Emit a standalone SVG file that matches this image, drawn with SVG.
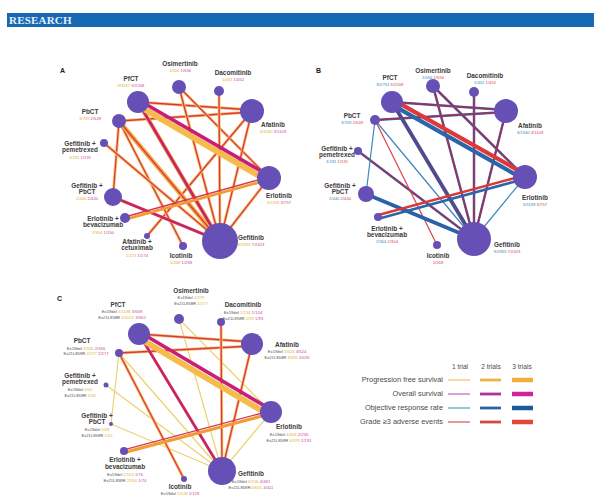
<svg xmlns="http://www.w3.org/2000/svg" width="594" height="498" viewBox="0 0 594 498">
<style>
.n{fill:#6650b6}
text{font-family:"Liberation Sans",Arial,sans-serif}
.lb{font-size:6.4px;font-weight:bold;fill:#3a3a3a;text-anchor:middle}
.sb{font-size:4.2px;text-anchor:middle}
.rw{font-size:4.2px;text-anchor:middle}
.pl{font-size:7px;font-weight:bold;fill:#222}
.lg{font-size:7.4px;fill:#4a4a4a}
.lh{font-size:6.6px;fill:#4a4a4a;text-anchor:middle}
.yt{fill:#e0b030}.pt{fill:#d0489c}.bt{fill:#3a8ab8}.rt{fill:#d84848}.dt{fill:#555}
line{stroke-linecap:butt;fill:none}
.y1{stroke:#f7c564;stroke-width:3}
.y2{stroke:#f4ae3c;stroke-width:4.4}
.r1{stroke:#d9364e;stroke-width:1.3}
.m2{stroke:#c8226f;stroke-width:2.6}
.yl{stroke:#ecd270;stroke-width:1.2}
.bl1{stroke:#3f86bb;stroke-width:1.2}
.bu{stroke:#4a62a8;stroke-width:2.5}
.ro{stroke:#9c3056;stroke-width:1.5}
.rd1{stroke:#d8404a;stroke-width:1.2}
</style>

<!-- header -->
<g id="header">
<rect x="7" y="13" width="587" height="14" fill="#1769b3"/>
<text x="9" y="24" style="font-family:'Liberation Serif',serif;font-size:11px;font-weight:bold;fill:#e6eef8;letter-spacing:0.2px">RESEARCH</text>
</g>

<!-- ===== Panel A ===== -->
<text class="pl" x="60" y="73">A</text>
<g id="edges-A">
<line class="y1" x1="138" y1="102" x2="252" y2="110"/><line class="r1" x1="138" y1="102" x2="252" y2="110"/>
<line class="y1" x1="119" y1="121" x2="252" y2="112"/><line class="r1" x1="119" y1="121" x2="252" y2="112"/>
<line class="y1" x1="179" y1="87" x2="220" y2="241"/><line class="r1" x1="179" y1="87" x2="220" y2="241"/>
<line class="y1" x1="179" y1="87" x2="269" y2="178"/><line class="r1" x1="179" y1="87" x2="269" y2="178"/>
<line class="y1" x1="219" y1="91" x2="220" y2="241"/><line class="r1" x1="219" y1="91" x2="220" y2="241"/>
<line class="y1" x1="252" y1="111" x2="220" y2="241"/><line class="r1" x1="252" y1="111" x2="220" y2="241"/>
<line class="y1" x1="252" y1="111" x2="147" y2="236"/><line class="r1" x1="252" y1="111" x2="147" y2="236"/>
<line class="y1" x1="269" y1="178" x2="220" y2="241"/><line class="r1" x1="269" y1="178" x2="220" y2="241"/>
<line class="y1" x1="119" y1="121" x2="113" y2="197"/><line class="r1" x1="119" y1="121" x2="113" y2="197"/>
<line class="y1" x1="119" y1="121" x2="183" y2="246"/><line class="r1" x1="119" y1="121" x2="183" y2="246"/>
<line class="y1" x1="104" y1="143" x2="220" y2="241"/><line class="r1" x1="104" y1="143" x2="220" y2="241"/>
<line class="y2" x1="119" y1="121" x2="220" y2="241"/><line class="r1" x1="119" y1="121" x2="220" y2="241"/>
<line class="y1" x1="113" y1="197" x2="220" y2="241"/><line class="m2" x1="113" y1="197" x2="220" y2="241"/>
<line class="y2" x1="138" y1="102" x2="220" y2="241"/><line class="m2" x1="138" y1="102" x2="220" y2="241"/>
<line x1="125.4" y1="219.4" x2="269.4" y2="179.4" style="stroke:#f29a34;stroke-width:2.8"/>
<line x1="124.7" y1="217" x2="268.7" y2="177" class="r1"/>
<line x1="136.5" y1="104.6" x2="267.5" y2="180.6" style="stroke:#f6bb4a;stroke-width:6"/>
<line x1="139" y1="100.3" x2="270" y2="176.3" style="stroke:#c81e78;stroke-width:3.6"/>
</g>
<g id="A-PfCT"><circle class="n" cx="138" cy="102" r="11"/><text class="lb" x="131" y="81">PfCT</text><text class="sb" x="131" y="87"><tspan class="yt">9/3017</tspan> <tspan class="pt">6/2208</tspan></text></g>
<g id="A-Osimertinib"><circle class="n" cx="179" cy="87" r="7"/><text class="lb" x="180" y="66">Osimertinib</text><text class="sb" x="180" y="72"><tspan class="yt">1/556</tspan> <tspan class="pt">1/556</tspan></text></g>
<g id="A-Dacomitinib"><circle class="n" cx="219" cy="91" r="5"/><text class="lb" x="233" y="75">Dacomitinib</text><text class="sb" x="233" y="81"><tspan class="yt">1/452</tspan> <tspan class="pt">1/452</tspan></text></g>
<g id="A-Afatinib"><circle class="n" cx="252" cy="111" r="12"/><text class="lb" x="273" y="127">Afatinib</text><text class="sb" x="273" y="133"><tspan class="yt">4/1340</tspan> <tspan class="pt">3/1109</tspan></text></g>
<g id="A-PbCT"><circle class="n" cx="119" cy="121" r="7"/><text class="lb" x="90" y="114">PbCT</text><text class="sb" x="90" y="120"><tspan class="yt">3/709</tspan> <tspan class="pt">2/549</tspan></text></g>
<g id="A-GefPem"><circle class="n" cx="104" cy="143" r="4"/><text class="lb" x="80" y="146">Gefitinib +</text><text class="lb" x="80" y="152">pemetrexed</text><text class="sb" x="80" y="159"><tspan class="yt">1/191</tspan> <tspan class="pt">1/191</tspan></text></g>
<g id="A-GefPbCT"><circle class="n" cx="113" cy="197" r="9"/><text class="lb" x="87" y="188">Gefitinib +</text><text class="lb" x="87" y="194">PbCT</text><text class="sb" x="87" y="200"><tspan class="yt">2/440</tspan> <tspan class="pt">2/440</tspan></text></g>
<g id="A-Erlotinib"><circle class="n" cx="269" cy="178" r="12"/><text class="lb" x="279" y="198">Erlotinib</text><text class="sb" x="279" y="204"><tspan class="yt">5/1159</tspan> <tspan class="pt">3/757</tspan></text></g>
<g id="A-ErlBev"><circle class="n" cx="125" cy="218" r="5"/><text class="lb" x="103" y="221">Erlotinib +</text><text class="lb" x="103" y="227">bevacizumab</text><text class="sb" x="103" y="234"><tspan class="yt">2/304</tspan> <tspan class="pt">1/150</tspan></text></g>
<g id="A-AfaCet"><circle class="n" cx="147" cy="236" r="3"/><text class="lb" x="137" y="244">Afatinib +</text><text class="lb" x="137" y="250">cetuximab</text><text class="sb" x="137" y="257"><tspan class="yt">1/174</tspan> <tspan class="pt">1/174</tspan></text></g>
<g id="A-Icotinib"><circle class="n" cx="183" cy="246" r="4"/><text class="lb" x="181" y="258">Icotinib</text><text class="sb" x="181" y="264"><tspan class="yt">1/268</tspan> <tspan class="pt">1/268</tspan></text></g>
<g id="A-Gefitinib"><circle class="n" cx="220" cy="241" r="18"/><text class="lb" x="251" y="240">Gefitinib</text><text class="sb" x="251" y="246"><tspan class="yt">9/2953</tspan> <tspan class="pt">7/2423</tspan></text></g>

<!-- ===== Panel B ===== -->
<text class="pl" x="316" y="73">B</text>
<g id="edges-B">
<line class="bu" x1="392" y1="102" x2="506" y2="110"/><line class="ro" x1="392" y1="102" x2="506" y2="110"/>
<line class="bu" x1="375" y1="120" x2="506" y2="112"/><line class="ro" x1="375" y1="120" x2="506" y2="112"/>
<line class="bu" x1="433" y1="86" x2="474" y2="239"/><line class="ro" x1="433" y1="86" x2="474" y2="239"/>
<line class="bu" x1="433" y1="86" x2="525" y2="177"/><line class="ro" x1="433" y1="86" x2="525" y2="177"/>
<line class="bu" x1="474" y1="92" x2="474" y2="239"/><line class="ro" x1="474" y1="92" x2="474" y2="239"/>
<line class="bu" x1="506" y1="111" x2="474" y2="239"/><line class="ro" x1="506" y1="111" x2="474" y2="239"/>
<line class="bu" x1="358" y1="151" x2="474" y2="239"/><line class="ro" x1="358" y1="151" x2="474" y2="239"/>
<line class="bl1" x1="525" y1="177" x2="474" y2="239"/>
<line class="bl1" x1="375" y1="120" x2="366" y2="194"/>
<line class="bl1" x1="375" y1="120" x2="474" y2="239"/>
<line class="rd1" x1="375" y1="120" x2="437" y2="245"/>
<line x1="366" y1="194" x2="474" y2="239" style="stroke:#2a62a8;stroke-width:3.6"/>
<line x1="392" y1="102" x2="474" y2="239" style="stroke:#2d5a9e;stroke-width:3.8"/>
<line x1="392" y1="102" x2="474" y2="239" style="stroke:#7a3a78;stroke-width:1.6"/>
<line x1="378.5" y1="218.7" x2="525.5" y2="178.7" style="stroke:#2a66aa;stroke-width:2.6"/>
<line x1="377.5" y1="215.3" x2="524.5" y2="175.3" style="stroke:#d83a3a;stroke-width:2.6"/>
<line x1="390.8" y1="104.2" x2="523.8" y2="179.2" style="stroke:#2a66aa;stroke-width:4.2"/>
<line x1="393.2" y1="99.8" x2="526.2" y2="174.8" style="stroke:#de3838;stroke-width:4.2"/>
</g>
<g id="B-PfCT"><circle class="n" cx="392" cy="102" r="11"/><text class="lb" x="390" y="80">PfCT</text><text class="sb" x="390" y="86"><tspan class="bt">8/2751</tspan> <tspan class="rt">6/2208</tspan></text></g>
<g id="B-Osimertinib"><circle class="n" cx="433" cy="86" r="7"/><text class="lb" x="433" y="73">Osimertinib</text><text class="sb" x="433" y="79"><tspan class="bt">1/556</tspan> <tspan class="rt">1/556</tspan></text></g>
<g id="B-Dacomitinib"><circle class="n" cx="474" cy="92" r="5"/><text class="lb" x="485" y="78">Dacomitinib</text><text class="sb" x="485" y="84"><tspan class="bt">1/452</tspan> <tspan class="rt">1/452</tspan></text></g>
<g id="B-Afatinib"><circle class="n" cx="506" cy="111" r="12"/><text class="lb" x="530" y="128">Afatinib</text><text class="sb" x="530" y="134"><tspan class="bt">4/1340</tspan> <tspan class="rt">3/1109</tspan></text></g>
<g id="B-PbCT"><circle class="n" cx="375" cy="120" r="5"/><text class="lb" x="352" y="118">PbCT</text><text class="sb" x="352" y="124"><tspan class="bt">3/709</tspan> <tspan class="rt">2/549</tspan></text></g>
<g id="B-GefPem"><circle class="n" cx="358" cy="151" r="4"/><text class="lb" x="337" y="151">Gefitinib +</text><text class="lb" x="337" y="157">pemetrexed</text><text class="sb" x="337" y="163"><tspan class="bt">1/191</tspan> <tspan class="rt">1/191</tspan></text></g>
<g id="B-GefPbCT"><circle class="n" cx="366" cy="194" r="8"/><text class="lb" x="340" y="188">Gefitinib +</text><text class="lb" x="340" y="194">PbCT</text><text class="sb" x="340" y="200"><tspan class="bt">2/440</tspan> <tspan class="rt">2/440</tspan></text></g>
<g id="B-Erlotinib"><circle class="n" cx="525" cy="177" r="12"/><text class="lb" x="535" y="200">Erlotinib</text><text class="sb" x="535" y="206"><tspan class="bt">5/1159</tspan> <tspan class="rt">3/757</tspan></text></g>
<g id="B-ErlBev"><circle class="n" cx="378" cy="217" r="4"/><text class="lb" x="387" y="231">Erlotinib +</text><text class="lb" x="387" y="237">bevacizumab</text><text class="sb" x="387" y="243"><tspan class="bt">2/304</tspan> <tspan class="rt">2/304</tspan></text></g>
<g id="B-Icotinib"><circle class="n" cx="437" cy="245" r="4"/><text class="lb" x="438" y="258">Icotinib</text><text class="sb" x="438" y="264"><tspan class="rt">1/268</tspan></text></g>
<g id="B-Gefitinib"><circle class="n" cx="474" cy="239" r="17"/><text class="lb" x="507" y="247">Gefitinib</text><text class="sb" x="507" y="253"><tspan class="bt">9/2953</tspan> <tspan class="rt">7/2423</tspan></text></g>

<!-- ===== Panel C ===== -->
<text class="pl" x="57" y="301">C</text>
<g id="edges-C">
<line class="yl" x1="179" y1="319" x2="222" y2="471"/>
<line class="yl" x1="179" y1="319" x2="271" y2="412"/>
<line class="yl" x1="119" y1="353" x2="111" y2="424"/>
<line class="yl" x1="119" y1="353" x2="222" y2="471"/>
<line class="yl" x1="106" y1="385" x2="222" y2="471"/>
<line class="yl" x1="111" y1="424" x2="222" y2="471"/>
<line class="yl" x1="271" y1="412" x2="222" y2="471"/>
<line class="y1" x1="139" y1="334" x2="252" y2="342"/><line class="r1" x1="139" y1="334" x2="252" y2="342"/>
<line class="y1" x1="119" y1="353" x2="252" y2="346"/><line class="r1" x1="119" y1="353" x2="252" y2="346"/>
<line class="y1" x1="221" y1="322" x2="222" y2="471"/><line class="r1" x1="221" y1="322" x2="222" y2="471"/>
<line class="y1" x1="252" y1="344" x2="222" y2="471"/><line class="r1" x1="252" y1="344" x2="222" y2="471"/>
<line class="y1" x1="119" y1="353" x2="184" y2="479"/><line class="r1" x1="119" y1="353" x2="184" y2="479"/>
<line class="y1" x1="139" y1="334" x2="222" y2="471"/><line class="m2" x1="139" y1="334" x2="222" y2="471"/>
<line x1="124.4" y1="452.5" x2="271.4" y2="413.5" style="stroke:#f29a34;stroke-width:3.2"/>
<line x1="123.7" y1="449.8" x2="270.7" y2="410.8" class="r1"/>
<line x1="137.2" y1="337" x2="269.2" y2="415" style="stroke:#f6bb4a;stroke-width:6"/>
<line x1="140" y1="332.3" x2="272" y2="410.3" style="stroke:#c81e78;stroke-width:3.6"/>
</g>
<g id="C-PfCT"><circle class="n" cx="139" cy="334" r="11"/><text class="lb" x="118" y="307">PfCT</text><text class="rw" x="122" y="313"><tspan class="dt">Ex19del</tspan> <tspan class="yt">5/1198</tspan> <tspan class="pt">3/668</tspan></text><text class="rw" x="122" y="319"><tspan class="dt">Ex21L858R</tspan> <tspan class="yt">5/1021</tspan> <tspan class="pt">3/562</tspan></text></g>
<g id="C-Osimertinib"><circle class="n" cx="179" cy="319" r="5"/><text class="lb" x="191" y="293">Osimertinib</text><text class="rw" x="191" y="299"><tspan class="dt">Ex19del</tspan> <tspan class="yt">1/279</tspan></text><text class="rw" x="191" y="305"><tspan class="dt">Ex21L858R</tspan> <tspan class="yt">1/177</tspan></text></g>
<g id="C-Dacomitinib"><circle class="n" cx="221" cy="322" r="4"/><text class="lb" x="243" y="307">Dacomitinib</text><text class="rw" x="243" y="314"><tspan class="dt">Ex19del</tspan> <tspan class="yt">1/134</tspan> <tspan class="pt">1/134</tspan></text><text class="rw" x="243" y="320"><tspan class="dt">Ex21L858R</tspan> <tspan class="yt">1/93</tspan> <tspan class="pt">1/93</tspan></text></g>
<g id="C-Afatinib"><circle class="n" cx="252" cy="344" r="11"/><text class="lb" x="287" y="347">Afatinib</text><text class="rw" x="287" y="353"><tspan class="dt">Ex19del</tspan> <tspan class="yt">3/524</tspan> <tspan class="pt">3/524</tspan></text><text class="rw" x="287" y="359"><tspan class="dt">Ex21L858R</tspan> <tspan class="yt">3/435</tspan> <tspan class="pt">3/435</tspan></text></g>
<g id="C-PbCT"><circle class="n" cx="119" cy="353" r="4"/><text class="lb" x="82" y="343">PbCT</text><text class="rw" x="86" y="350"><tspan class="dt">Ex19del</tspan> <tspan class="yt">2/346</tspan> <tspan class="pt">2/346</tspan></text><text class="rw" x="86" y="355"><tspan class="dt">Ex21L858R</tspan> <tspan class="yt">2/277</tspan> <tspan class="pt">2/277</tspan></text></g>
<g id="C-GefPem"><circle class="n" cx="106" cy="385" r="2.5"/><text class="lb" x="80" y="378">Gefitinib +</text><text class="lb" x="80" y="384">pemetrexed</text><text class="rw" x="80" y="391"><tspan class="dt">Ex19del</tspan> <tspan class="yt">1/62</tspan></text><text class="rw" x="80" y="397"><tspan class="dt">Ex21L858R</tspan> <tspan class="yt">1/53</tspan></text></g>
<g id="C-GefPbCT"><circle class="n" cx="111" cy="424" r="2"/><text class="lb" x="97" y="418">Gefitinib +</text><text class="lb" x="97" y="424">PbCT</text><text class="rw" x="97" y="431"><tspan class="dt">Ex19del</tspan> <tspan class="yt">1/58</tspan></text><text class="rw" x="97" y="437"><tspan class="dt">Ex21L858R</tspan> <tspan class="yt">1/52</tspan></text></g>
<g id="C-Erlotinib"><circle class="n" cx="271" cy="412" r="11"/><text class="lb" x="289" y="429">Erlotinib</text><text class="rw" x="289" y="436"><tspan class="dt">Ex19del</tspan> <tspan class="yt">4/468</tspan> <tspan class="pt">2/236</tspan></text><text class="rw" x="289" y="442"><tspan class="dt">Ex21L858R</tspan> <tspan class="yt">4/379</tspan> <tspan class="pt">2/191</tspan></text></g>
<g id="C-ErlBev"><circle class="n" cx="124" cy="451" r="4"/><text class="lb" x="125" y="462">Erlotinib +</text><text class="lb" x="125" y="469">bevacizumab</text><text class="rw" x="125" y="476"><tspan class="dt">Ex19del</tspan> <tspan class="yt">2/153</tspan> <tspan class="pt">1/76</tspan></text><text class="rw" x="125" y="482"><tspan class="dt">Ex21L858R</tspan> <tspan class="yt">2/150</tspan> <tspan class="pt">1/74</tspan></text></g>
<g id="C-Icotinib"><circle class="n" cx="184" cy="479" r="3"/><text class="lb" x="180" y="489">Icotinib</text><text class="rw" x="180" y="495"><tspan class="dt">Ex19del</tspan> <tspan class="yt">1/128</tspan> <tspan class="pt">1/128</tspan></text></g>
<g id="C-Gefitinib"><circle class="n" cx="222" cy="471" r="14"/><text class="lb" x="251" y="476">Gefitinib</text><text class="rw" x="251" y="483"><tspan class="dt">Ex19del</tspan> <tspan class="yt">6/706</tspan> <tspan class="pt">4/481</tspan></text><text class="rw" x="251" y="489"><tspan class="dt">Ex21L858R</tspan> <tspan class="yt">6/601</tspan> <tspan class="pt">4/411</tspan></text></g>

<!-- ===== Legend ===== -->
<g id="legend">
<text class="lh" x="460" y="369">1 trial</text>
<text class="lh" x="491" y="369">2 trials</text>
<text class="lh" x="522" y="369">3 trials</text>
<text class="lg" x="443" y="382" text-anchor="end">Progression free survival</text>
<text class="lg" x="443" y="396" text-anchor="end">Overall survival</text>
<text class="lg" x="443" y="410" text-anchor="end">Objective response rate</text>
<text class="lg" x="443" y="424" text-anchor="end">Grade ≥3 adverse events</text>
<line x1="448" y1="380" x2="470" y2="380" style="stroke:#f5c26b;stroke-width:1.2"/>
<line x1="480" y1="380" x2="501" y2="380" style="stroke:#f3b23e;stroke-width:2.8"/>
<line x1="512" y1="380" x2="533" y2="380" style="stroke:#f2ae3a;stroke-width:4.5"/>
<line x1="448" y1="394" x2="470" y2="394" style="stroke:#c662b8;stroke-width:1.2"/>
<line x1="480" y1="394" x2="501" y2="394" style="stroke:#b0309e;stroke-width:2.8"/>
<line x1="512" y1="394" x2="533" y2="394" style="stroke:#d0239a;stroke-width:4.5"/>
<line x1="448" y1="408" x2="470" y2="408" style="stroke:#5a9cbf;stroke-width:1.2"/>
<line x1="480" y1="408" x2="501" y2="408" style="stroke:#2a62a8;stroke-width:2.8"/>
<line x1="512" y1="408" x2="533" y2="408" style="stroke:#1e5a9a;stroke-width:4.5"/>
<line x1="448" y1="422" x2="470" y2="422" style="stroke:#d65656;stroke-width:1.2"/>
<line x1="480" y1="422" x2="501" y2="422" style="stroke:#d04a40;stroke-width:2.8"/>
<line x1="512" y1="422" x2="533" y2="422" style="stroke:#e0463a;stroke-width:4.5"/>
</g>
</svg>
